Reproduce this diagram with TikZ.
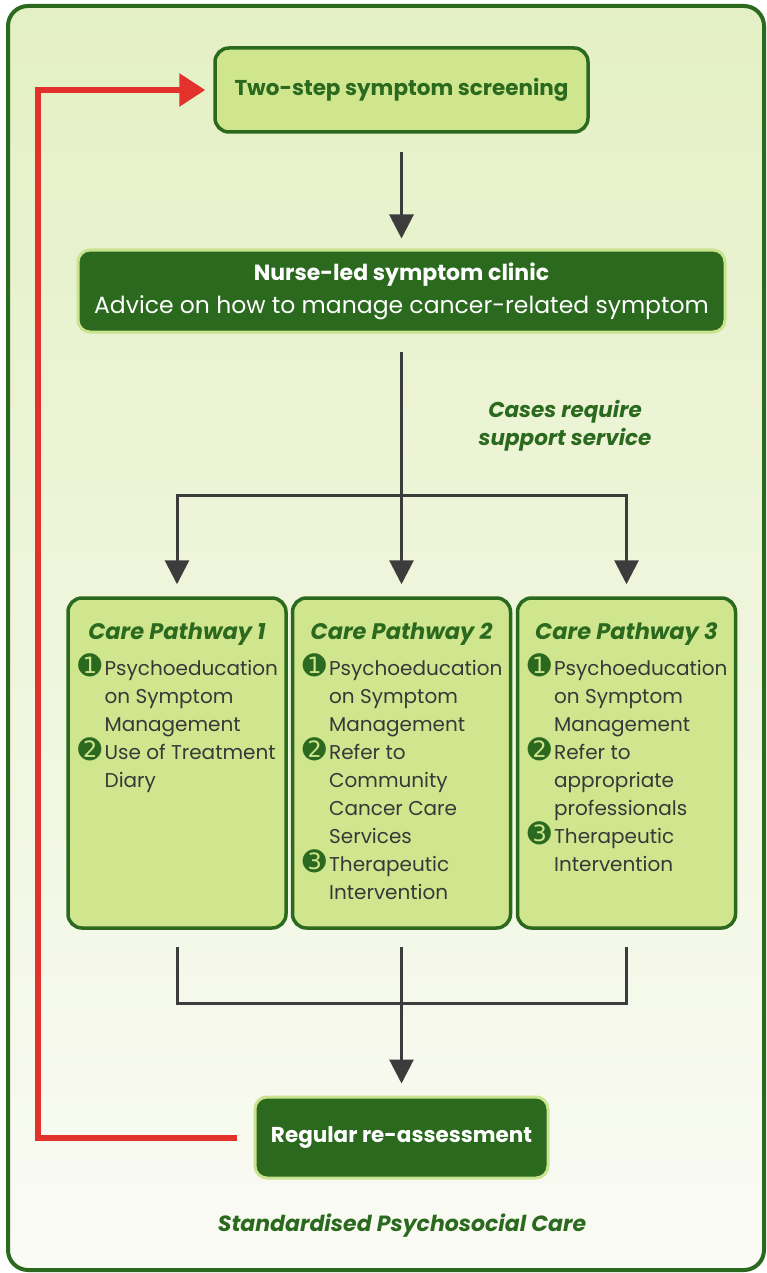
\documentclass[tikz,border=0pt]{standalone}
\usepackage{fontspec}
\setmainfont{Poppins}
\newfontfamily\dingfont{DejaVu Sans}
\usetikzlibrary{arrows.meta}
\definecolor{framegreen}{HTML}{2B6A1E}
\definecolor{bgtop}{HTML}{E4F0C4}
\definecolor{bgbottom}{HTML}{FAFBF5}
\definecolor{lightgreen}{HTML}{CFE68E}
\definecolor{edgegreen}{HTML}{C9E38E}
\definecolor{textgrey}{HTML}{383838}
\definecolor{arrowgrey}{HTML}{3C3C3C}
\definecolor{loopred}{HTML}{E2322B}
\newcommand{\numdot}[1]{\smash{\dingfont\fontsize{28}{28}\selectfont\color{framegreen}#1}}
\tikzset{
	lightbox/.style={draw=framegreen,line width=3.5pt,fill=lightgreen,rounded corners=14pt},
	darkbox/.style={draw=edgegreen,line width=3pt,fill=framegreen,rounded corners=12pt,text=white},
	pathbox/.style={lightbox,minimum width=218pt,minimum height=330pt},
	pathtitle/.style={text=framegreen,font=\fontsize{22.5}{26}\selectfont\bfseries\itshape},
	pathitems/.style={anchor=north west,text=textgrey,inner sep=0pt,font=\fontsize{20}{28}\selectfont},
	note/.style={text=framegreen,align=center,font=\fontsize{21.5}{28}\selectfont\bfseries\itshape},
	flow/.style={draw=arrowgrey,line width=3pt},
	flowarrow/.style={flow,-{Triangle[width=24pt,length=24pt]}},
	backarrow/.style={draw=loopred,line width=6pt,-{Triangle[width=32pt,length=26pt]}}
}

\begin{document}
\begin{tikzpicture}[x=1pt,y=-1pt]
		\useasboundingbox (0,0) rectangle (767,1273);
		\fill[white] (0,0) rectangle (767,1273);
		\draw[draw=framegreen,line width=4pt,rounded corners=20pt,top color=bgtop,bottom color=bgbottom] (8,6) rectangle (764,1270);

		\node(screen) at (401.5,90)[lightbox,minimum width=373pt,minimum height=84pt,text=framegreen,font=\fontsize{21.5}{24}\selectfont\bfseries]{Two-step symptom screening};
		\node(clinic) at (401.5,291)[darkbox,minimum width=647pt,minimum height=82pt,align=center,font=\fontsize{23.5}{33}\selectfont]{{\fontsize{22}{33}\selectfont\bfseries Nurse-led symptom clinic}\\Advice on how to manage cancer-related symptom};
		\node(cases) at (565,426)[note]{Cases require\\support service};

		\node(path1) at (177,763)[pathbox]{};
		\node(path2) at (401.5,763)[pathbox]{};
		\node(path3) at (626.5,763)[pathbox]{};
		\node(title1) at (177,634)[pathtitle]{Care Pathway 1};
		\node(title2) at (401.5,634)[pathtitle]{Care Pathway 2};
		\node(title3) at (626.5,634)[pathtitle]{Care Pathway 3};
		\node(items1) at (78,656)[pathitems]{\begin{tabular}{@{}l@{\hspace{3pt}}l@{}}
			\numdot{➊} & Psychoeducation\\ & on Symptom\\ & Management\\
			\numdot{➋} & Use of Treatment\\ & Diary
		\end{tabular}};
		\node(items2) at (302.5,656)[pathitems]{\begin{tabular}{@{}l@{\hspace{3pt}}l@{}}
			\numdot{➊} & Psychoeducation\\ & on Symptom\\ & Management\\
			\numdot{➋} & Refer to\\ & Community\\ & Cancer Care\\ & Services\\
			\numdot{➌} & Therapeutic\\ & Intervention
		\end{tabular}};
		\node(items3) at (527.5,656)[pathitems]{\begin{tabular}{@{}l@{\hspace{3pt}}l@{}}
			\numdot{➊} & Psychoeducation\\ & on Symptom\\ & Management\\
			\numdot{➋} & Refer to\\ & appropriate\\ & professionals\\
			\numdot{➌} & Therapeutic\\ & Intervention
		\end{tabular}};

		\node(review) at (401.5,1137.5)[darkbox,minimum width=293pt,minimum height=81pt,font=\fontsize{21.5}{24}\selectfont\bfseries]{Regular re-assessment};
		\node(footer) at (402,1226)[note,font=\fontsize{22}{26}\selectfont\bfseries\itshape]{Standardised Psychosocial Care};

		\coordinate(split) at (401.5,495);
		\coordinate(join) at (401.5,1003);

		\draw[flowarrow,shorten <=18pt,shorten >=10pt] (screen) -- (clinic);
		\draw[flowarrow,shorten <=18pt,shorten >=12pt] (clinic) -- (path2);
		\draw[flowarrow,shorten >=12pt] (split) -| (path1);
		\draw[flowarrow,shorten >=12pt] (split) -| (path3);
		\draw[flow,shorten <=17pt] (path1) |- (join);
		\draw[flow,shorten <=17pt] (path3) |- (join);
		\draw[flowarrow,shorten <=17pt,shorten >=12pt] (path2) -- (review);
		\draw[backarrow,shorten <=17pt,shorten >=8pt] (review.west) -- (38,1137.5) -- (38,90) -- (screen.west);
\end{tikzpicture}
\end{document}
